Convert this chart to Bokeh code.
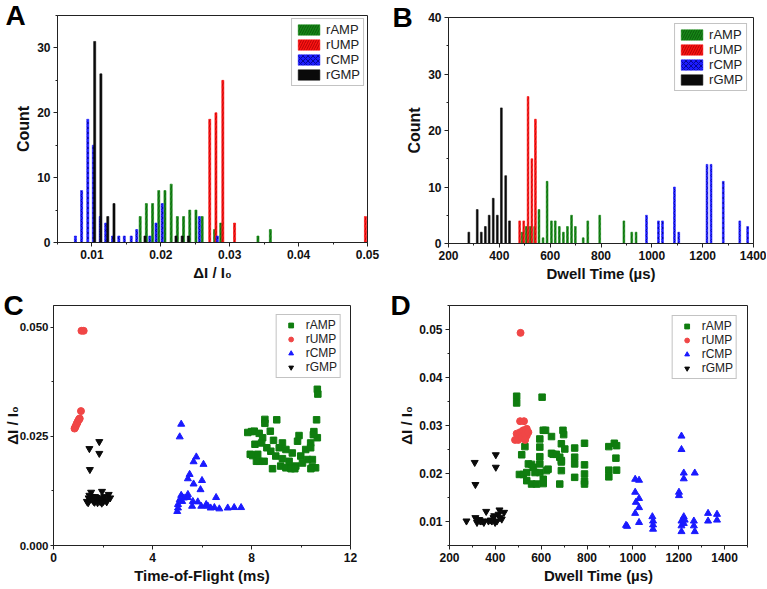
from bokeh.plotting import figure
from bokeh.models import FixedTicker, PrintfTickFormatter, Title, Range1d
from bokeh.layouts import column, row
from bokeh.embed import file_html
from bokeh.resources import INLINE

# ---------------- data ----------------
series = ["rAMP", "rUMP", "rCMP", "rGMP"]

# Panel A: histogram of ΔI/I0 (bin centre, count)
a_amp_x = [0.0170, 0.0179, 0.0188, 0.0197, 0.0206, 0.0215, 0.0224, 0.0233, 0.0242, 0.0251, 0.0260, 0.0278, 0.0287, 0.0341, 0.0359]
a_amp_n = [4, 6, 6, 8, 8, 9, 4, 4, 5, 5, 4, 2, 3, 1, 2]
a_ump_x = [0.0271, 0.0280, 0.0290, 0.0307, 0.0497]
a_ump_n = [19, 20, 25, 3, 4]
a_cmp_x = [0.0076, 0.0085, 0.0094, 0.0102, 0.0112, 0.0120, 0.0130, 0.0139, 0.0147, 0.0157, 0.0165, 0.0184, 0.0193, 0.0202, 0.0256, 0.0282]
a_cmp_n = [1, 8, 19, 15, 4, 3, 1, 1, 1, 1, 2, 1, 3, 6, 4, 1]
a_gmp_x = [0.0104, 0.0113, 0.0123, 0.0132, 0.0177, 0.0222, 0.0231, 0.0240]
a_gmp_n = [31, 26, 4, 6, 1, 1, 1, 1]

# Panel B: histogram of dwell time (µs)
b_amp_x = [490, 506, 522, 539, 556, 572, 588, 605, 620, 636, 652, 668, 684, 699, 730, 748, 795, 890, 921, 938]
b_amp_n = [2, 3, 3, 3, 6, 1, 11, 4, 4, 3, 2, 3, 5, 3, 1, 4, 5, 4, 2, 2]
b_ump_x = [480, 496, 513, 528, 542]
b_ump_n = [4, 4, 26, 15, 22]
b_cmp_x = [979, 1026, 1042, 1089, 1106, 1217, 1233, 1281, 1346, 1377]
b_cmp_n = [5, 4, 4, 10, 2, 14, 14, 11, 4, 3]
b_gmp_x = [280, 313, 329, 345, 360, 376, 392, 408, 425, 440]
b_gmp_n = [2, 6, 2, 3, 5, 8, 5, 24, 12, 4]

# Panel C: time-of-flight (ms) vs ΔI/I0
c_amp_t = [8.54, 8.54, 9.02, 10.63, 8.00, 8.11, 8.31, 8.45, 8.76, 9.92, 10.52, 10.66, 8.14, 8.41, 8.89, 9.25,
           9.86, 10.39, 8.05, 8.25, 8.62, 8.78, 9.12, 9.39, 9.65, 10.19, 10.39, 8.51, 8.31, 8.98, 9.25, 9.52,
           9.99, 10.26, 10.46, 8.85, 9.18, 9.39, 9.59, 9.79, 10.06, 10.46, 10.59, 10.66, 10.68,
           7.85, 7.95, 8.20, 9.60, 9.75, 10.40, 10.50]
c_amp_d = [0.0289, 0.0280, 0.0288, 0.0288, 0.0261, 0.0262, 0.0257, 0.0247, 0.0262, 0.0252, 0.0261, 0.0247, 0.0232, 0.0235, 0.0241, 0.0235,
           0.0239, 0.0235, 0.0206, 0.0209, 0.0224, 0.0216, 0.0224, 0.0220, 0.0212, 0.0220, 0.0224, 0.0193, 0.0193, 0.0205, 0.0199, 0.0193,
           0.0205, 0.0197, 0.0197, 0.0176, 0.0182, 0.0178, 0.0178, 0.0182, 0.0189, 0.0180, 0.0178, 0.0358, 0.0347,
           0.0259, 0.0209, 0.0193, 0.0176, 0.0176, 0.0176, 0.0254]
c_ump_t = [1.13, 1.22, 1.11, 0.85, 0.90, 0.94, 0.98, 1.02, 1.06, 0.88, 0.96, 1.04]
c_ump_d = [0.0492, 0.0492, 0.0308, 0.0268, 0.0274, 0.0279, 0.0284, 0.0288, 0.0291, 0.0271, 0.0281, 0.0290]
c_cmp_t = [5.16, 5.10, 5.77, 5.66, 6.06, 5.50, 5.43, 5.66, 6.00, 5.94, 6.57, 5.16, 5.43, 5.83, 6.17, 6.50,
           6.70, 7.04, 7.30, 7.58, 5.03, 5.00, 5.10, 5.27, 5.43, 6.24, 6.35, 5.97, 5.63, 5.20, 5.03, 5.60]
c_cmp_d = [0.0278, 0.0249, 0.0203, 0.0192, 0.0186, 0.0163, 0.0153, 0.0141, 0.0149, 0.0128, 0.0110, 0.0115, 0.0117, 0.0100, 0.0094, 0.0087,
           0.0084, 0.0086, 0.0087, 0.0087, 0.0094, 0.0078, 0.0105, 0.0109, 0.0110, 0.0090, 0.0086, 0.0090, 0.0101, 0.0101, 0.0086, 0.0090]
c_gmp_t = [1.45, 1.85, 1.85, 1.47, 1.35, 1.42, 1.52, 1.62, 1.70, 1.82, 1.96, 2.02, 2.10, 2.23, 2.29, 1.40,
           1.48, 1.56, 1.66, 1.75, 1.88, 1.92, 2.05, 2.15, 1.58, 1.78, 2.18, 1.45, 1.68, 1.95]
c_gmp_d = [0.0222, 0.0238, 0.0211, 0.0174, 0.0101, 0.0109, 0.0122, 0.0101, 0.0103, 0.0105, 0.0124, 0.0101, 0.0104, 0.0117, 0.0109, 0.0098,
           0.0106, 0.0112, 0.0099, 0.0110, 0.0101, 0.0108, 0.0112, 0.0100, 0.0104, 0.0098, 0.0106, 0.0115, 0.0112, 0.0097]

# Panel D: dwell time (µs) vs ΔI/I0
d_amp_t = [493, 493, 604, 529, 515, 505, 522, 537, 544, 558, 537, 558, 580, 594, 594, 594, 594, 594, 609, 619,
           573, 609, 609, 623, 645, 645, 652, 666, 681, 688, 688, 688, 681, 630, 695, 698, 703, 688, 746, 746,
           746, 746, 789, 789, 789, 789, 789, 895, 895, 895, 919, 929, 926, 929, 565]
d_amp_d = [0.0361, 0.0347, 0.0359, 0.0256, 0.0239, 0.0198, 0.0198, 0.0202, 0.0220, 0.0219, 0.0185, 0.0178, 0.0178, 0.0272, 0.0255, 0.0235, 0.0220, 0.0202, 0.0290, 0.0290,
           0.0202, 0.0179, 0.0188, 0.0206, 0.0277, 0.0242, 0.0240, 0.0240, 0.0234, 0.0262, 0.0227, 0.0206, 0.0178, 0.0209, 0.0290, 0.0281, 0.0251, 0.0224, 0.0253, 0.0234,
           0.0220, 0.0192, 0.0263, 0.0218, 0.0199, 0.0184, 0.0178, 0.0256, 0.0207, 0.0193, 0.0263, 0.0258, 0.0232, 0.0207, 0.0213]
d_ump_t = [510, 508, 525, 486, 500, 493, 508, 522, 537, 537, 515, 529, 544, 530]
d_ump_d = [0.0493, 0.0309, 0.0309, 0.0270, 0.0270, 0.0283, 0.0286, 0.0290, 0.0293, 0.0279, 0.0276, 0.0283, 0.0286, 0.0270]
d_cmp_t = [970, 1010, 1027, 1010, 1013, 1027, 1027, 1010, 1027, 1085, 1088, 1088, 1088, 1201, 1201, 1212, 1212,
           1222, 1222, 1270, 1212, 1212, 1212, 1222, 1222, 1266, 1266, 1270, 1328, 1328, 1367, 1367, 1226, 975]
d_cmp_d = [0.0092, 0.0188, 0.0186, 0.0161, 0.0140, 0.0148, 0.0129, 0.0117, 0.0098, 0.0110, 0.0101, 0.0093, 0.0084, 0.0154, 0.0161, 0.0278, 0.0250,
           0.0201, 0.0189, 0.0201, 0.0101, 0.0091, 0.0079, 0.0110, 0.0096, 0.0101, 0.0091, 0.0079, 0.0117, 0.0101, 0.0115, 0.0103, 0.0103, 0.0090]
d_gmp_t = [274, 310, 313, 402, 402, 313, 320, 342, 360, 370, 392, 399, 414, 418, 438, 428, 407, 385, 334, 330, 350, 380, 420, 395]
d_gmp_d = [0.0101, 0.0223, 0.0177, 0.0239, 0.0213, 0.0108, 0.0098, 0.0101, 0.0121, 0.0101, 0.0108, 0.0098, 0.0115, 0.0124, 0.0119, 0.0105,
           0.0101, 0.0101, 0.0101, 0.0104, 0.0098, 0.0103, 0.0108, 0.0112]

# ---------------- styling ----------------
FONT = "Liberation Sans"
BAR_COL = {"rAMP": "#168a16", "rUMP": "#ff1414", "rCMP": "#1c1cff", "rGMP": "#0a0a0a"}
HATCH = {"rAMP": ("/", "#0a4a0a"), "rUMP": ("/", "#9a0000"), "rCMP": ("x", "#00007a"), "rGMP": (None, None)}
PT_COL = {"rAMP": "#0f7d0f", "rUMP": "#f04646", "rCMP": "#1a1aff", "rGMP": "#0a0a0a"}
MARK = {"rAMP": "square", "rUMP": "circle", "rCMP": "triangle", "rGMP": "inverted_triangle"}
AX = "#222222"


def make_fig(w, h, xr, yr, bl, br, bt, bb, letter, letter_offset):
    p = figure(width=w, height=h, x_range=Range1d(*xr), y_range=Range1d(*yr),
               output_backend="svg", toolbar_location=None,
               min_border_left=bl, min_border_right=br, min_border_top=bt, min_border_bottom=bb)
    p.title = Title(text=letter, align="left", vertical_align="middle", offset=letter_offset,
                    standoff=-40, text_font=FONT, text_font_style="bold",
                    text_font_size="28px", text_color="#000000")
    p.xgrid.visible = False
    p.ygrid.visible = False
    p.outline_line_color = AX
    p.outline_line_width = 1
    p.outline_line_alpha = 1
    p.background_fill_color = "white"
    p.border_fill_color = "white"
    for ax in (p.xaxis[0], p.yaxis[0]):
        ax.axis_line_color = AX
        ax.major_tick_line_color = AX
        ax.minor_tick_line_color = AX
        ax.major_tick_out = 4
        ax.major_tick_in = 0
        ax.minor_tick_out = 2
        ax.minor_tick_in = 0
        ax.major_label_standoff = 3
        ax.axis_label_standoff = 2
        ax.major_label_text_font = FONT
        ax.major_label_text_font_style = "bold"
        ax.major_label_text_font_size = "12px"
        ax.major_label_text_color = "#111111"
        ax.axis_label_text_font = FONT
        ax.axis_label_text_font_style = "bold"
        ax.axis_label_text_font_size = "15px"
        ax.axis_label_text_color = "#111111"
    return p


def style_legend(p, margin, glyph_w, glyph_h, font_size):
    lg = p.legend[0]
    lg.location = "top_right"
    lg.margin = margin
    lg.padding = 3
    lg.spacing = 0
    lg.glyph_width = glyph_w
    lg.glyph_height = glyph_h
    lg.label_height = 12
    lg.label_standoff = 4
    lg.label_text_font = FONT
    lg.label_text_font_size = font_size
    lg.label_text_color = "#222222"
    lg.border_line_color = "#888888"
    lg.border_line_width = 1
    lg.background_fill_color = "white"
    lg.background_fill_alpha = 1


def add_bars(p, xs, ns, name, width):
    hp, hc = HATCH[name]
    kw = dict(x=xs, top=ns, width=width, fill_color=BAR_COL[name], line_color=BAR_COL[name],
              line_width=0.6, legend_label=name)
    if hp:
        kw.update(hatch_pattern=hp, hatch_color=hc, hatch_scale=5, hatch_weight=1, hatch_alpha=0.8)
    p.vbar(**kw)


# ---------------- Panel A ----------------
pA = make_fig(380, 290, (0.005, 0.05), (0, 35), 57, 13, 15, 48, "A", -52)
for name, xs, ns in zip(series, [a_amp_x, a_ump_x, a_cmp_x, a_gmp_x], [a_amp_n, a_ump_n, a_cmp_n, a_gmp_n]):
    add_bars(pA, xs, ns, name, 0.0003)
pA.xaxis.ticker = FixedTicker(ticks=[0.01, 0.02, 0.03, 0.04, 0.05], minor_ticks=[0.005, 0.015, 0.025, 0.035, 0.045])
pA.xaxis.formatter = PrintfTickFormatter(format="%.2f")
pA.yaxis.ticker = FixedTicker(ticks=[0, 10, 20, 30], minor_ticks=[5, 15, 25, 35])
pA.xaxis.axis_label = "ΔI / I₀"
pA.yaxis.axis_label = "Count"
pA.yaxis.axis_label_text_font_size = "16px"
style_legend(pA, 3, 27, 13, "13px")

# ---------------- Panel B ----------------
pB = make_fig(386, 290, (200, 1400), (0, 40), 68, 13, 17, 47, "B", -56)
for name, xs, ns in zip(series, [b_amp_x, b_ump_x, b_cmp_x, b_gmp_x], [b_amp_n, b_ump_n, b_cmp_n, b_gmp_n]):
    add_bars(pB, xs, ns, name, 7)
pB.xaxis.ticker = FixedTicker(ticks=[200, 400, 600, 800, 1000, 1200, 1400], minor_ticks=[300, 500, 700, 900, 1100, 1300])
pB.yaxis.ticker = FixedTicker(ticks=[0, 10, 20, 30, 40], minor_ticks=[5, 15, 25, 35])
pB.xaxis.axis_label = "Dwell Time (µs)"
pB.yaxis.axis_label = "Count"
pB.yaxis.axis_label_text_font_size = "16px"
style_legend(pB, 6, 27, 13, "13px")

# ---------------- Panel C ----------------
pC = make_fig(380, 298, (0, 12), (0, 0.055), 52, 30, 15, 43, "C", -50)
for name, ts, ds in zip(series, [c_amp_t, c_ump_t, c_cmp_t, c_gmp_t], [c_amp_d, c_ump_d, c_cmp_d, c_gmp_d]):
    pC.scatter(ts, ds, marker=MARK[name], size=7 if name != "rAMP" else 6.5,
               fill_color=PT_COL[name], line_color=PT_COL[name], legend_label=name)
pC.xaxis.ticker = FixedTicker(ticks=[0, 4, 8, 12], minor_ticks=[2, 6, 10])
pC.yaxis.ticker = FixedTicker(ticks=[0, 0.025, 0.05], minor_ticks=[0.0125, 0.0375])
pC.yaxis.formatter = PrintfTickFormatter(format="%.3f")
pC.yaxis.major_label_text_font_size = "11.5px"
pC.yaxis.major_tick_out = 3
pC.yaxis.major_label_standoff = 2
pC.yaxis.axis_label_standoff = -4
pC.xaxis.axis_label = "Time-of-Flight (ms)"
pC.yaxis.axis_label = "ΔI / I₀"
style_legend(pC, 9, 22, 12, "12px")

# ---------------- Panel D ----------------
pD = make_fig(386, 298, (200, 1500), (0.005, 0.055), 69, 19, 15, 43, "D", -59)
for name, ts, ds in zip(series, [d_amp_t, d_ump_t, d_cmp_t, d_gmp_t], [d_amp_d, d_ump_d, d_cmp_d, d_gmp_d]):
    pD.scatter(ts, ds, marker=MARK[name], size=7 if name != "rAMP" else 6.5,
               fill_color=PT_COL[name], line_color=PT_COL[name], legend_label=name)
pD.xaxis.ticker = FixedTicker(ticks=[200, 400, 600, 800, 1000, 1200, 1400], minor_ticks=[300, 500, 700, 900, 1100, 1300, 1500])
pD.yaxis.ticker = FixedTicker(ticks=[0.01, 0.02, 0.03, 0.04, 0.05], minor_ticks=[0.005, 0.015, 0.025, 0.035, 0.045, 0.055])
pD.yaxis.formatter = PrintfTickFormatter(format="%.2f")
pD.yaxis.axis_label_standoff = 1
pD.xaxis.axis_label = "Dwell Time (µs)"
pD.yaxis.axis_label = "ΔI / I₀"
style_legend(pD, 10, 22, 12, "12px")

# each figure in its own column so that the frames are not aligned across the row
layout = column(row(column(pA), column(pB)), row(column(pC), column(pD)))
open("out.html", "w").write(file_html(layout, INLINE))
